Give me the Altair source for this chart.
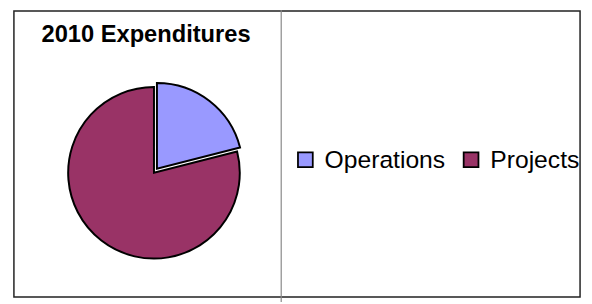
import altair as alt
import pandas as pd

# ---- data ----
categories = ["Operations", "Projects"]
values = [21, 79]
colors = ["#9999FF", "#993366"]
title_text = ["2010 Expenditures"]

df = pd.DataFrame({"category": categories, "value": values, "order": list(range(len(categories)))})
one = pd.DataFrame({"t": title_text})

W, H = 584, 296
CX, CY, R = 148, 165, 87

color = alt.Color(
    "category:N",
    scale=alt.Scale(domain=categories, range=colors),
    legend=alt.Legend(
        title=None, orient="none", legendX=289, legendY=139, direction="horizontal",
        symbolType="square", symbolSize=225, symbolStrokeColor="black", symbolStrokeWidth=1.8,
        symbolOpacity=1, labelFontSize=25, labelFont="Liberation Sans", labelColor="black",
        labelOffset=7, columnPadding=13, padding=0,
    ),
)

theta_scale = alt.Scale(domain=[0, sum(values)])

base = alt.Chart(df).transform_stack(
    stack="value", as_=["v0", "v1"], groupby=[], sort=[alt.SortField("order")]
)

projects = base.transform_filter(alt.datum.category == "Projects").mark_arc(
    radius=R, stroke="black", strokeWidth=2
).encode(
    theta=alt.Theta("v0:Q", scale=theta_scale), theta2="v1:Q", color=color,
    x=alt.value(CX), y=alt.value(CY),
)

operations = base.transform_filter(alt.datum.category == "Operations").mark_arc(
    radius=R, stroke="black", strokeWidth=2, xOffset=3, yOffset=-4
).encode(
    theta=alt.Theta("v0:Q", scale=theta_scale), theta2="v1:Q", color=color,
    x=alt.value(CX), y=alt.value(CY),
)

frame = alt.Chart(one).mark_rect(filled=False, stroke="#222222", strokeWidth=1.5).encode(
    x=alt.value(6), x2=alt.value(580), y=alt.value(1), y2=alt.value(291)
)
divider = alt.Chart(one).mark_rule(stroke="#888888", strokeWidth=1.2).encode(
    x=alt.value(277), y=alt.value(0), y2=alt.value(296)
)

title = alt.Chart(one).mark_text(
    align="left", baseline="alphabetic", font="Liberation Sans", fontSize=24,
    fontWeight="bold", color="black",
).encode(text="t:N", x=alt.value(34), y=alt.value(32))

chart = alt.layer(frame, divider, projects, operations, title).properties(
    width=W, height=H, autosize=alt.AutoSizeParams(type="none"), padding=0,
    background="white",
).configure_view(stroke=None)

chart.save("out.html", embed_options={"renderer": "svg", "actions": False})
